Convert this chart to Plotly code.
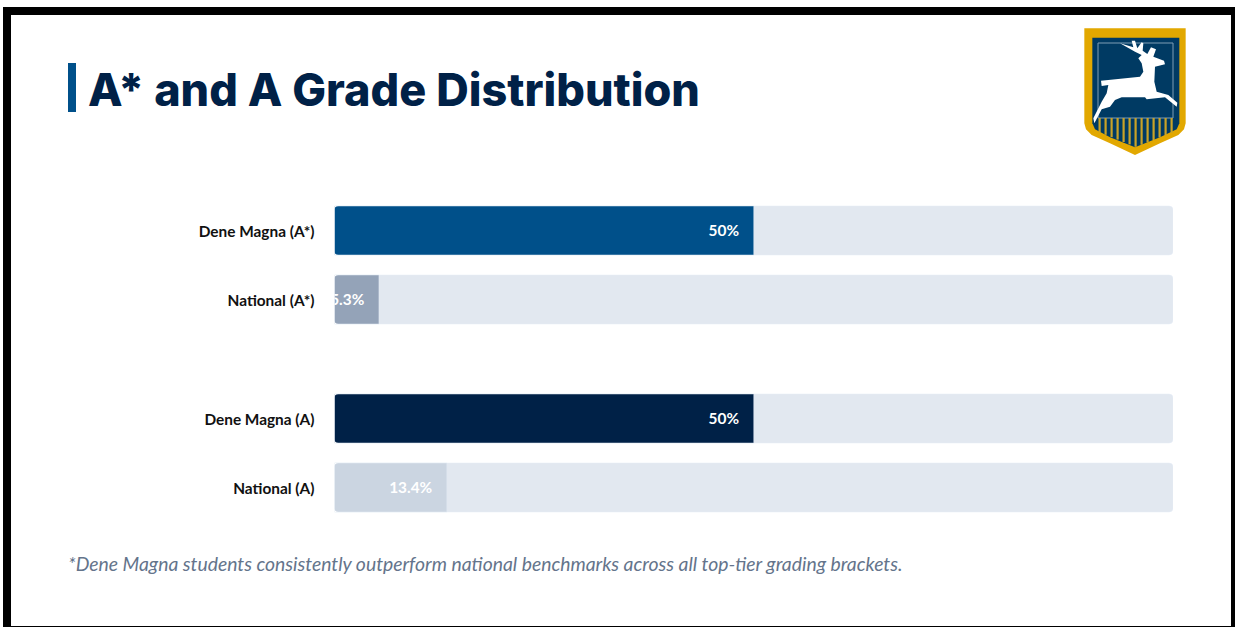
import plotly.graph_objects as go

W, H = 1235, 627

title = "A* and A Grade Distribution"
footnote = "*Dene Magna students consistently outperform national benchmarks across all top-tier grading brackets."

astar_labels = ["Dene Magna (A*)", "National (A*)"]
astar_values = [50, 5.3]
astar_text = ["50%", "5.3%"]
astar_colors = ["#00508A", "#94A3B8"]

a_labels = ["Dene Magna (A)", "National (A)"]
a_values = [50, 13.4]
a_text = ["50%", "13.4%"]
a_colors = ["#002147", "#CBD5E1"]

full_scale = [100, 100]
row_index = [0, 1]
TRACK = "#E2E8F0"
LABEL_PAD = 1.75    # percent units, inset of the value label from the bar end
LABEL_DROP = 2 / 69  # row units, optical vertical centring of the value label


def fx(x):
    return x / W


def fy(y):
    return 1 - y / H


def rect(x0, y0, x1, y1, color):
    return dict(type="rect", xref="paper", yref="paper", x0=fx(x0), x1=fx(x1),
                y0=fy(y0), y1=fy(y1), fillcolor=color, line=dict(width=0), layer="above")


def poly(points, color):
    d = "M " + " L ".join(f"{fx(x):.5f},{fy(y):.5f}" for x, y in points) + " Z"
    return dict(type="path", xref="paper", yref="paper", path=d, fillcolor=color,
                line=dict(width=0), layer="above")


def corner(x, y, dx, dy, r=4):
    d = (f"M {fx(x):.5f},{fy(y):.5f} L {fx(x + dx * r):.5f},{fy(y):.5f} "
         f"Q {fx(x):.5f},{fy(y):.5f} {fx(x):.5f},{fy(y + dy * r):.5f} Z")
    return dict(type="path", xref="paper", yref="paper", path=d, fillcolor="white",
                line=dict(width=0), layer="above")


def zoomed(points):
    return [(1060 + x / 3, 10 + y / 3) for x, y in points]


fig = go.Figure()


def add_group(values, text, colors, yaxis):
    fig.add_trace(go.Bar(y=row_index, x=full_scale, orientation="h", marker_color=TRACK,
                         yaxis=yaxis, hoverinfo="skip", showlegend=False))
    fig.add_trace(go.Bar(y=row_index, x=values, orientation="h", marker_color=colors,
                         yaxis=yaxis, showlegend=False))
    fig.add_trace(go.Scatter(y=[r + LABEL_DROP for r in row_index], x=[v - LABEL_PAD for v in values],
                             text=text, mode="text", textposition="middle left", yaxis=yaxis,
                             cliponaxis=True,
                             textfont=dict(family="Lato", size=15.4, color="white", weight=700),
                             hoverinfo="skip", showlegend=False))


add_group(astar_values, astar_text, astar_colors, "y")
add_group(a_values, a_text, a_colors, "y2")

yaxis_style = dict(
    range=[1.5, -0.5], showgrid=False, zeroline=False, showline=False,
    tickmode="array", tickvals=row_index,
    ticks="", ticklabelstandoff=19, ticklabelshift=-1, anchor="x",
    tickfont=dict(family="Lato", size=15.4, color="#111111", weight=700),
)

shield_outer = zoomed([(73, 55), (377, 55), (377, 340), (372, 358), (355, 375), (300, 400), (225, 435),
                       (150, 400), (95, 375), (78, 358), (73, 340)])
shield_inner = zoomed([(97, 83), (358, 83), (358, 340), (350, 358), (300, 382), (225, 412),
                       (150, 382), (105, 358), (97, 340)])
stag = zoomed([(180, 100), (220, 112), (215, 92), (225, 92), (232, 115), (245, 97), (250, 100), (248, 122),
               (262, 132), (273, 112), (288, 118), (280, 140), (312, 152), (315, 163), (285, 170), (283, 215),
               (290, 245), (325, 255), (352, 278), (350, 290), (315, 262), (260, 268), (255, 262), (185, 262),
               (165, 270), (150, 290), (125, 298), (103, 340), (100, 325), (125, 275), (140, 250), (145, 225),
               (125, 228), (123, 212), (240, 200), (250, 185), (245, 160), (235, 145), (245, 135), (225, 125)])

shapes = [
    rect(3, 7, 1235, 15, "#000000"),
    rect(3, 7, 11, 627, "#000000"),
    rect(1231, 7, 1235, 627, "#000000"),
    rect(3, 626, 1235, 627, "#000000"),
    rect(68, 63, 76, 112, "#00508A"),
    poly(shield_outer, "#E2A800"),
    poly(shield_inner, "#003A63"),
    dict(type="rect", xref="paper", yref="paper", x0=fx(1098), x1=fx(1173), y0=fy(43), y1=fy(118),
         fillcolor="rgba(0,0,0,0)", line=dict(color="#7F9DB5", width=1), layer="above"),
]
for i in range(13):
    x = 1098.5 + i * 6.0
    depth = 147 - abs(x - 1135) * 0.4
    shapes.append(rect(x, 118, x + 2.2, depth, "#C9A227"))
shapes.append(poly(stag, "#FFFFFF"))

for top in (206, 275, 394, 463):
    shapes.append(corner(334.5, top, 1, 1))
    shapes.append(corner(334.5, top + 49, 1, -1))

fig.update_layout(
    width=W, height=H, margin=dict(l=0, r=0, t=0, b=0), autosize=False,
    paper_bgcolor="white", plot_bgcolor="white",
    barmode="overlay", bargap=20 / 69, barcornerradius=4,
    xaxis=dict(domain=[334.5 / W, 1173 / W], range=[0, 100], visible=False, anchor="y"),
    yaxis=dict(domain=[fy(334), fy(196)], ticktext=astar_labels, **yaxis_style),
    yaxis2=dict(domain=[fy(522), fy(384)], ticktext=a_labels, **yaxis_style),
    shapes=shapes,
    annotations=[
        dict(text=title, x=fx(85.5), y=fy(89), xref="paper", yref="paper", xanchor="left", yanchor="middle",
             showarrow=False, font=dict(family="Inter", size=45, color="#002147", weight=800)),
        dict(text=footnote, x=fx(65.5), y=fy(563), xref="paper", yref="paper", xanchor="left", yanchor="middle",
             showarrow=False, font=dict(family="Lato", size=19.35, color="#64748B", style="italic")),
    ],
)

fig.write_html("out.html", config=dict(displayModeBar=False),
               post_script="document.body.style.margin='0';document.documentElement.style.overflow='hidden';window.dispatchEvent(new Event('resize'));")
